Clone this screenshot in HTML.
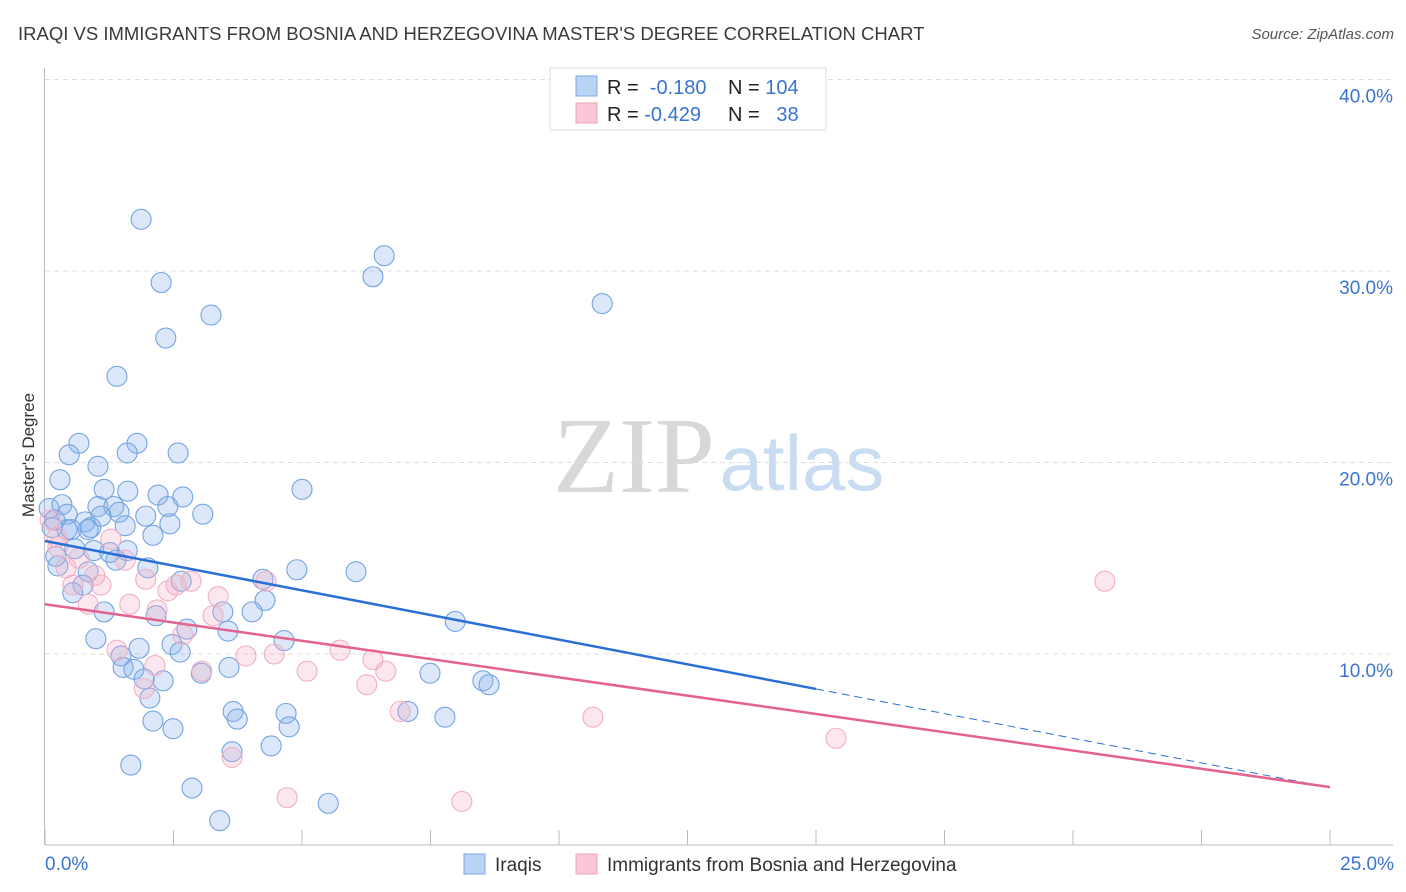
<!DOCTYPE html>
<html><head><meta charset="utf-8"><style>
body{margin:0;background:#fff;font-family:"Liberation Sans",sans-serif;}
#c{position:relative;width:1406px;height:892px;overflow:hidden;}
</style></head><body>
<div id="c">
<svg id="s" width="1406" height="892" xmlns="http://www.w3.org/2000/svg">
<text x="18" y="40" font-size="18.5" fill="#3a3a3a">IRAQI VS IMMIGRANTS FROM BOSNIA AND HERZEGOVINA MASTER'S DEGREE CORRELATION CHART</text>
<text x="1394" y="39" font-size="15" fill="#555" font-style="italic" text-anchor="end">Source: ZipAtlas.com</text>
<text x="34" y="455" font-size="17" fill="#333" text-anchor="middle" transform="rotate(-90 34 455)">Master's Degree</text>
<text x="634" y="492" font-size="108" fill="#d8d8d8" text-anchor="middle" font-family="Liberation Serif,serif">ZIP</text>
<text x="802" y="490" font-size="78" fill="#c9dcf2" text-anchor="middle">atlas</text>
<g id="grid"></g><g id="axes"></g><g id="pts"></g><g id="lines"></g>
<g>
<rect x="550" y="68" width="276" height="62" fill="#fff" stroke="#ddd"/>
<rect x="576" y="76" width="21" height="20" fill="#b9d3f5" stroke="#7aa7e6"/>
<rect x="576" y="103" width="21" height="20" fill="#f9c7d6" stroke="#eda3ba"/>
<text x="607" y="94" font-size="20" fill="#222">R = <tspan fill="#3a74d0">&#160;-0.180</tspan></text>
<text x="728" y="94" font-size="20" fill="#222">N = <tspan fill="#3a74d0">104</tspan></text>
<text x="607" y="121" font-size="20" fill="#222">R = <tspan fill="#3a74d0">-0.429</tspan></text>
<text x="728" y="121" font-size="20" fill="#222">N = <tspan fill="#3a74d0">&#160;&#160;38</tspan></text>
</g>
<g>
<rect x="464" y="854" width="21" height="20" fill="#b9d3f5" stroke="#7aa7e6"/>
<text x="495" y="871" font-size="19" fill="#333">Iraqis</text>
<rect x="576" y="854" width="21" height="20" fill="#f9c7d6" stroke="#eda3ba"/>
<text x="607" y="871" font-size="19" fill="#333">Immigrants from Bosnia and Herzegovina</text>
</g>
</svg>
</div>
<script>
const blueX=[1.87,2.26,3.23,2.35,1.40,6.38,6.60,10.84,0.66,1.79,0.47,1.60,2.59,1.03,0.29,5.00,1.15,1.61,2.20,2.68,1.03,1.34,2.39,3.07,0.08,0.33,0.43,0.78,1.44,1.96,1.09,1.56,2.43,0.89,0.84,0.43,0.19,0.14,2.10,0.51,0.95,1.26,1.60,0.58,0.21,1.38,0.25,2.00,4.90,6.05,4.24,2.65,0.84,0.74,0.54,4.28,4.03,3.46,1.15,2.16,2.76,3.56,0.99,1.83,2.47,4.65,2.63,7.98,1.48,1.52,1.73,3.58,3.04,7.49,8.52,8.64,1.93,2.30,2.04,3.66,3.74,4.69,7.06,7.78,2.10,2.49,4.75,3.64,4.40,1.67,2.86,5.51,3.40];
const blueY=[32.7,29.4,27.7,26.5,24.5,29.7,30.8,28.3,21.0,21.0,20.4,20.5,20.5,19.8,19.1,18.6,18.6,18.5,18.3,18.2,17.7,17.7,17.7,17.3,17.6,17.8,17.3,16.9,17.4,17.2,17.2,16.7,16.8,16.6,16.5,16.5,17.0,16.6,16.2,16.5,15.4,15.3,15.4,15.5,15.1,14.9,14.6,14.5,14.4,14.3,13.9,13.8,14.3,13.6,13.2,12.8,12.2,12.2,12.2,12.0,11.3,11.2,10.8,10.3,10.5,10.7,10.1,11.7,9.9,9.3,9.2,9.3,9.0,9.0,8.6,8.4,8.7,8.6,7.7,7.0,6.6,6.9,7.0,6.7,6.5,6.1,6.2,4.9,5.2,4.2,3.0,2.2,1.3];
const pinkX=[0.10,0.23,0.25,0.41,0.66,0.54,1.09,0.97,0.84,1.28,1.56,1.65,1.96,2.18,2.39,2.55,2.84,2.68,3.37,3.27,1.40,1.93,3.05,3.91,4.46,4.30,5.10,5.74,6.38,6.26,6.63,6.91,3.64,4.71,8.11,10.66,15.39,20.62,2.14];
const pinkY=[17.0,16.1,15.6,14.5,15.0,13.6,13.6,14.1,12.6,16.0,14.9,12.6,13.9,12.3,13.3,13.6,13.8,11.0,13.0,12.0,10.2,8.2,9.1,9.9,10.0,13.8,9.1,10.2,9.7,8.4,9.1,7.0,4.6,2.5,2.3,6.7,5.6,13.8,9.4];
const blueFit=[15.9,-0.515];
const pinkFit=[12.6,-0.382];
const yTicks=[10,20,30,40];
const yTickLabels=["10.0%","20.0%","30.0%","40.0%"];
const xTicks=[0,2.5,5,7.5,10,12.5,15,17.5,20,22.5,25];
const xEndLabels=["0.0%","25.0%"];

const NS="http://www.w3.org/2000/svg";
const X0=45,X1=1330,Y0=845.5,PXY=19.15;
function sx(v){return X0+v*(X1-X0)/25;}
function sy(v){return Y0-v*PXY;}
function mk(tag,attrs,parent){const e=document.createElementNS(NS,tag);for(const k in attrs)e.setAttribute(k,attrs[k]);parent.appendChild(e);return e;}
const grid=document.getElementById('grid'),axes=document.getElementById('axes'),pts=document.getElementById('pts'),lines=document.getElementById('lines');
yTicks.forEach((t,i)=>{
  const l=mk('line',{x1:45,x2:1393,y1:sy(t),y2:sy(t),stroke:'#ddd','stroke-dasharray':'5,4'},grid);
  
  
  const tx=mk('text',{x:1393,y:sy(t)+23,'font-size':19,fill:'#3a74d0','text-anchor':'end'},axes);
  tx.textContent=yTickLabels[i];
  
  
});
const ax=mk('line',{x1:45,x2:1393,y1:845,y2:845,stroke:'#bbb'},axes);


const ay=mk('line',{x1:44.5,x2:44.5,y1:68,y2:845,stroke:'#bbb'},axes);


xTicks.forEach(t=>{
  const l=mk('line',{x1:sx(t),x2:sx(t),y1:830,y2:845,stroke:'#bbb'},axes);
  
  
});
[[0,'start'],[25,'end']].forEach((p,i)=>{
  const tx=mk('text',{x:i?1394:45,y:870,'font-size':19,fill:'#3a74d0','text-anchor':p[1]},axes);
  tx.textContent=xEndLabels[i];
  
  
});
blueX.forEach((x,i)=>{
  const c=mk('circle',{cx:sx(x),cy:sy(blueY[i]),r:10,fill:'rgba(140,180,235,0.3)',stroke:'#74a3e2','stroke-width':1.1},pts);
  
  
});
pinkX.forEach((x,i)=>{
  const c=mk('circle',{cx:sx(x),cy:sy(pinkY[i]),r:10,fill:'rgba(245,170,195,0.28)',stroke:'#efb0c5','stroke-width':1.1},pts);
  
  
});
const bSolidEnd=15;
const b1=mk('line',{x1:sx(0),y1:sy(blueFit[0]),x2:sx(bSolidEnd),y2:sy(blueFit[0]+blueFit[1]*bSolidEnd),stroke:'#2a6fd6','stroke-width':2.5},lines);


const b2=mk('line',{x1:sx(bSolidEnd),y1:sy(blueFit[0]+blueFit[1]*bSolidEnd),x2:sx(25),y2:sy(blueFit[0]+blueFit[1]*25),stroke:'#2a6fd6','stroke-width':1,'stroke-dasharray':'8,5'},lines);


const p1=mk('line',{x1:sx(0),y1:sy(pinkFit[0]),x2:sx(25),y2:sy(pinkFit[0]+pinkFit[1]*25),stroke:'#e4628f','stroke-width':2.5},lines);


</script>
</body></html>
